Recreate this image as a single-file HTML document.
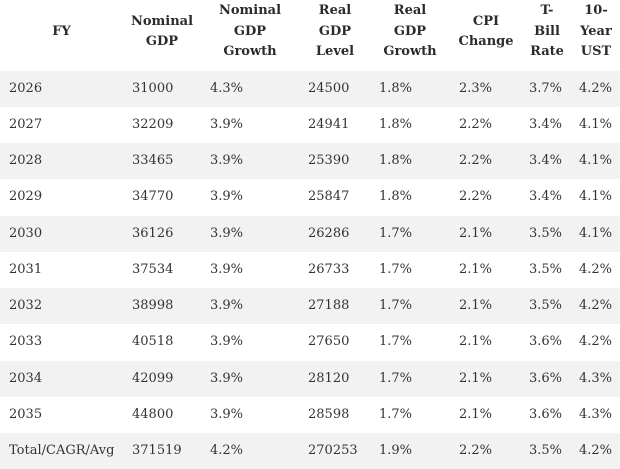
<!DOCTYPE html>
<html>
<head>
<meta charset="utf-8">
<style>
  html, body { margin:0; padding:0; background:#ffffff; }
  body { width:620px; height:466px; overflow:hidden; position:relative;
         font-family:"DejaVu Serif","Liberation Serif",serif; font-size:13px; color:#333333; }
  .h { position:absolute; top:1px; height:62px; width:100px; display:flex; align-items:center; justify-content:center;
       text-align:center; font-weight:bold; line-height:20.5px; color:#2b2b2b; }
  .row { position:absolute; left:0; width:620px; height:36.25px; }
  .g { background:#f2f2f2; }
  .c { position:absolute; top:0; height:36.25px; line-height:36.25px; white-space:nowrap; }
</style>
</head>
<body>
  <div class="h" style="left:11.5px;">FY</div>
  <div class="h" style="left:112px;">Nominal<br>GDP</div>
  <div class="h" style="left:200px;">Nominal<br>GDP<br>Growth</div>
  <div class="h" style="left:285px;">Real<br>GDP<br>Level</div>
  <div class="h" style="left:360px;">Real<br>GDP<br>Growth</div>
  <div class="h" style="left:436px;">CPI<br>Change</div>
  <div class="h" style="left:497px;">T-<br>Bill<br>Rate</div>
  <div class="h" style="left:546px;">10-<br>Year<br>UST</div>

  <div class="row g" style="top:70.7px;">
    <span class="c" style="left:9px;">2026</span><span class="c" style="left:132px;">31000</span><span class="c" style="left:210px;">4.3%</span><span class="c" style="left:308px;">24500</span><span class="c" style="left:379px;">1.8%</span><span class="c" style="left:459px;">2.3%</span><span class="c" style="left:529px;">3.7%</span><span class="c" style="left:579px;">4.2%</span>
  </div>
  <div class="row" style="top:106.95px;">
    <span class="c" style="left:9px;">2027</span><span class="c" style="left:132px;">32209</span><span class="c" style="left:210px;">3.9%</span><span class="c" style="left:308px;">24941</span><span class="c" style="left:379px;">1.8%</span><span class="c" style="left:459px;">2.2%</span><span class="c" style="left:529px;">3.4%</span><span class="c" style="left:579px;">4.1%</span>
  </div>
  <div class="row g" style="top:143.2px;">
    <span class="c" style="left:9px;">2028</span><span class="c" style="left:132px;">33465</span><span class="c" style="left:210px;">3.9%</span><span class="c" style="left:308px;">25390</span><span class="c" style="left:379px;">1.8%</span><span class="c" style="left:459px;">2.2%</span><span class="c" style="left:529px;">3.4%</span><span class="c" style="left:579px;">4.1%</span>
  </div>
  <div class="row" style="top:179.45px;">
    <span class="c" style="left:9px;">2029</span><span class="c" style="left:132px;">34770</span><span class="c" style="left:210px;">3.9%</span><span class="c" style="left:308px;">25847</span><span class="c" style="left:379px;">1.8%</span><span class="c" style="left:459px;">2.2%</span><span class="c" style="left:529px;">3.4%</span><span class="c" style="left:579px;">4.1%</span>
  </div>
  <div class="row g" style="top:215.7px;">
    <span class="c" style="left:9px;">2030</span><span class="c" style="left:132px;">36126</span><span class="c" style="left:210px;">3.9%</span><span class="c" style="left:308px;">26286</span><span class="c" style="left:379px;">1.7%</span><span class="c" style="left:459px;">2.1%</span><span class="c" style="left:529px;">3.5%</span><span class="c" style="left:579px;">4.1%</span>
  </div>
  <div class="row" style="top:251.95px;">
    <span class="c" style="left:9px;">2031</span><span class="c" style="left:132px;">37534</span><span class="c" style="left:210px;">3.9%</span><span class="c" style="left:308px;">26733</span><span class="c" style="left:379px;">1.7%</span><span class="c" style="left:459px;">2.1%</span><span class="c" style="left:529px;">3.5%</span><span class="c" style="left:579px;">4.2%</span>
  </div>
  <div class="row g" style="top:288.2px;">
    <span class="c" style="left:9px;">2032</span><span class="c" style="left:132px;">38998</span><span class="c" style="left:210px;">3.9%</span><span class="c" style="left:308px;">27188</span><span class="c" style="left:379px;">1.7%</span><span class="c" style="left:459px;">2.1%</span><span class="c" style="left:529px;">3.5%</span><span class="c" style="left:579px;">4.2%</span>
  </div>
  <div class="row" style="top:324.45px;">
    <span class="c" style="left:9px;">2033</span><span class="c" style="left:132px;">40518</span><span class="c" style="left:210px;">3.9%</span><span class="c" style="left:308px;">27650</span><span class="c" style="left:379px;">1.7%</span><span class="c" style="left:459px;">2.1%</span><span class="c" style="left:529px;">3.6%</span><span class="c" style="left:579px;">4.2%</span>
  </div>
  <div class="row g" style="top:360.7px;">
    <span class="c" style="left:9px;">2034</span><span class="c" style="left:132px;">42099</span><span class="c" style="left:210px;">3.9%</span><span class="c" style="left:308px;">28120</span><span class="c" style="left:379px;">1.7%</span><span class="c" style="left:459px;">2.1%</span><span class="c" style="left:529px;">3.6%</span><span class="c" style="left:579px;">4.3%</span>
  </div>
  <div class="row" style="top:396.95px;">
    <span class="c" style="left:9px;">2035</span><span class="c" style="left:132px;">44800</span><span class="c" style="left:210px;">3.9%</span><span class="c" style="left:308px;">28598</span><span class="c" style="left:379px;">1.7%</span><span class="c" style="left:459px;">2.1%</span><span class="c" style="left:529px;">3.6%</span><span class="c" style="left:579px;">4.3%</span>
  </div>
  <div class="row g" style="top:433.2px;">
    <span class="c" style="left:9px;">Total/CAGR/Avg</span><span class="c" style="left:132px;">371519</span><span class="c" style="left:210px;">4.2%</span><span class="c" style="left:308px;">270253</span><span class="c" style="left:379px;">1.9%</span><span class="c" style="left:459px;">2.2%</span><span class="c" style="left:529px;">3.5%</span><span class="c" style="left:579px;">4.2%</span>
  </div>
</body>
</html>
